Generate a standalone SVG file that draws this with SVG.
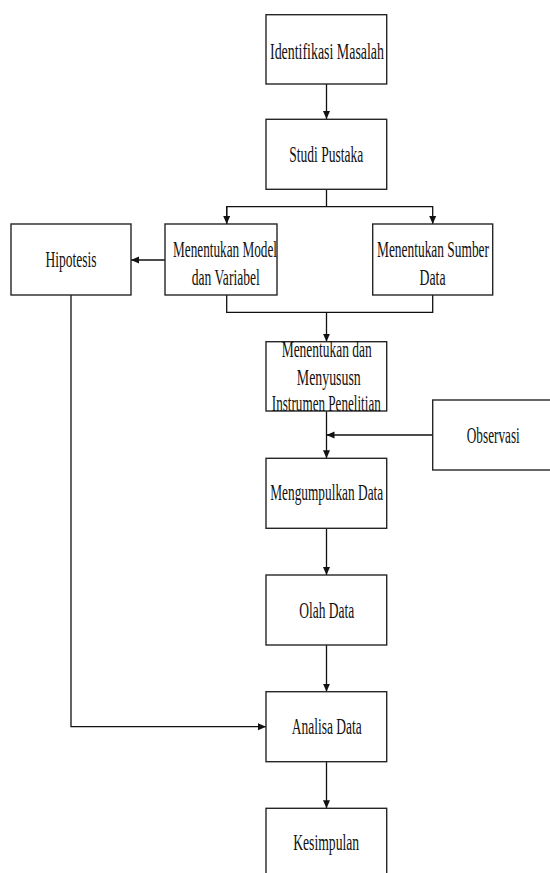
<svg xmlns="http://www.w3.org/2000/svg" width="550" height="873" viewBox="0 0 550 873">
<style>
.box{fill:#ffffff;stroke:#262626;stroke-width:1.4}
.t{font-family:"Liberation Serif","Times New Roman",serif;font-size:24px;fill:#111;text-anchor:middle}
.c{fill:none;stroke:#111;stroke-width:1.3}
</style>
<defs>
<marker id="ah" markerWidth="8" markerHeight="8" refX="8" refY="4" orient="auto" markerUnits="userSpaceOnUse">
<path d="M0,0.5 L8,4 L0,7.5 Z" fill="#111"/>
</marker>
</defs>
<rect width="550" height="873" fill="#ffffff"/>
<g id="connectors">
<path class="c" d="M326.5,84 V119" marker-end="url(#ah)"/>
<path class="c" d="M326.5,189 V206.7"/>
<path class="c" d="M226.7,224 V206.7 H432.7 V224" marker-end="url(#ah)"/>
<path class="c" d="M226.7,206.7 V224" marker-end="url(#ah)"/>
<path class="c" d="M165,260 H131" marker-end="url(#ah)"/>
<path class="c" d="M226.7,295 V312.3 H432.7 V295"/>
<path class="c" d="M326.5,312.3 V341.7" marker-end="url(#ah)"/>
<path class="c" d="M326.5,411 V458.3" marker-end="url(#ah)"/>
<path class="c" d="M432.7,435 H326.5" marker-end="url(#ah)"/>
<path class="c" d="M326.5,528.3 V575" marker-end="url(#ah)"/>
<path class="c" d="M326.5,645 V691.7" marker-end="url(#ah)"/>
<path class="c" d="M71,295 V726.7 H266" marker-end="url(#ah)"/>
<path class="c" d="M326.5,761.7 V808.3" marker-end="url(#ah)"/>
</g>
<g id="identifikasi">
<rect class="box" x="266" y="14.7" width="120.7" height="69.3"/>
<text class="t" x="327" y="59" textLength="114" lengthAdjust="spacingAndGlyphs">Identifikasi Masalah</text>
</g>
<g id="studi">
<rect class="box" x="266" y="119.3" width="120.7" height="70"/>
<text class="t" x="326.3" y="162" textLength="74" lengthAdjust="spacingAndGlyphs">Studi Pustaka</text>
</g>
<g id="hipotesis">
<rect class="box" x="11" y="224" width="120" height="71"/>
<text class="t" x="71" y="267" textLength="51" lengthAdjust="spacingAndGlyphs">Hipotesis</text>
</g>
<g id="model">
<rect class="box" x="165" y="224" width="112" height="71"/>
<text class="t" x="225" y="257" textLength="104" lengthAdjust="spacingAndGlyphs">Menentukan Model</text>
<text class="t" x="225.8" y="285" textLength="68" lengthAdjust="spacingAndGlyphs">dan Variabel</text>
</g>
<g id="sumber">
<rect class="box" x="372.7" y="224" width="120" height="71"/>
<text class="t" x="433" y="257" textLength="112" lengthAdjust="spacingAndGlyphs">Menentukan Sumber</text>
<text class="t" x="432.5" y="285" textLength="26" lengthAdjust="spacingAndGlyphs">Data</text>
</g>
<g id="instrumen">
<rect class="box" x="266" y="341.7" width="120.7" height="69.3"/>
<text class="t" x="326.7" y="357" textLength="90" lengthAdjust="spacingAndGlyphs">Menentukan dan</text>
<text class="t" x="328.8" y="385" textLength="64" lengthAdjust="spacingAndGlyphs">Menyususn</text>
<text class="t" x="326.3" y="411" textLength="109" lengthAdjust="spacingAndGlyphs">Instrumen Penelitian</text>
</g>
<g id="observasi">
<rect class="box" x="432.7" y="400" width="120" height="70"/>
<text class="t" x="493.3" y="443" textLength="53" lengthAdjust="spacingAndGlyphs">Observasi</text>
</g>
<g id="mengumpulkan">
<rect class="box" x="266" y="458.3" width="120.7" height="70"/>
<text class="t" x="326.7" y="500" textLength="113" lengthAdjust="spacingAndGlyphs">Mengumpulkan Data</text>
</g>
<g id="olah">
<rect class="box" x="266" y="575" width="120.7" height="70"/>
<text class="t" x="326.7" y="618" textLength="55" lengthAdjust="spacingAndGlyphs">Olah Data</text>
</g>
<g id="analisa">
<rect class="box" x="266" y="691.7" width="120.7" height="70"/>
<text class="t" x="326.7" y="734" textLength="70" lengthAdjust="spacingAndGlyphs">Analisa Data</text>
</g>
<g id="kesimpulan">
<rect class="box" x="266" y="808.3" width="120.7" height="80"/>
<text class="t" x="326.2" y="850" textLength="66" lengthAdjust="spacingAndGlyphs">Kesimpulan</text>
</g>
</svg>
